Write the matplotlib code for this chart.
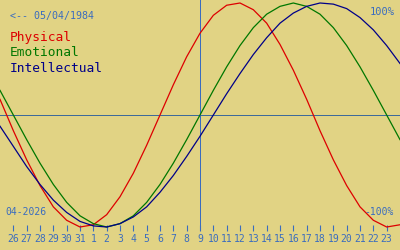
import matplotlib
matplotlib.use('Agg')
import matplotlib.pyplot as plt

# day offsets relative to today (09 Apr 2026)
days = list(range(-15, 16))
day_labels = ['26', '27', '28', '29', '30', '31', '1', '2', '3', '4', '5', '6', '7', '8', '9',
              '10', '11', '12', '13', '14', '15', '16', '17', '18', '19', '20', '21', '22', '23']
tick_days = list(range(-14, 15))

physical = [0.14, -0.14, -0.40, -0.63, -0.82, -0.94, -1.00, -0.98, -0.89, -0.73, -0.52,
            -0.27, 0.00, 0.27, 0.52, 0.73, 0.89, 0.98, 1.00, 0.94, 0.82, 0.63, 0.40, 0.14,
            -0.14, -0.40, -0.63, -0.82, -0.94, -1.00, -0.98]
emotional = [0.22, 0.00, -0.22, -0.43, -0.62, -0.78, -0.90, -0.97, -1.00, -0.97, -0.90,
             -0.78, -0.62, -0.43, -0.22, 0.00, 0.22, 0.43, 0.62, 0.78, 0.90, 0.97, 1.00,
             0.97, 0.90, 0.78, 0.62, 0.43, 0.22, 0.00, -0.22]
intellectual = [-0.10, -0.28, -0.46, -0.62, -0.76, -0.87, -0.95, -0.99, -1.00, -0.97, -0.91,
                -0.82, -0.69, -0.54, -0.37, -0.19, 0.00, 0.19, 0.37, 0.54, 0.69, 0.82, 0.91,
                0.97, 1.00, 0.99, 0.95, 0.87, 0.76, 0.62, 0.46]

bg = '#e1d384'
blue = '#3a6cbf'
mono = 'DejaVu Sans Mono'

fig = plt.figure(figsize=(4, 2.5), dpi=100, facecolor=bg)
ax = fig.add_axes([0, 0, 1, 1], facecolor=bg)
ax.set_xlim(-15, 15)
ax.set_ylim(-135 / 112, 115 / 112)

# zero line and "today" marker
ax.axhline(0, color='#3d6a9a', lw=0.6, antialiased=False)
ax.plot([0, 0], [115 / 112, -113 / 112], color=blue, lw=0.6, antialiased=False)

ax.plot(days, physical, color='#dd0000', lw=0.9)
ax.plot(days, emotional, color='#007700', lw=0.9)
ax.plot(days, intellectual, color='#000088', lw=0.9)

# bottom axis with day ticks, placed inside the figure
for s in ['top', 'right', 'left', 'bottom']:
    ax.spines[s].set_visible(False)
ax.spines['bottom'].set_position(('data', -110 / 112))
ax.set_yticks([])
ax.set_xticks(tick_days)
ax.set_xticklabels(day_labels)
ax.tick_params(axis='x', direction='out', length=4.5, width=0.8, color=blue,
               labelcolor=blue, labelsize=7, pad=2)
for lbl in ax.get_xticklabels():
    lbl.set_family(mono)

fig.text(10 / 400, 1 - 16 / 250, '<-- 05/04/1984', color=blue, family=mono,
         fontsize=7.2, va='center', ha='left')
fig.text(10 / 400, 1 - 38 / 250, 'Physical', color='#dd0000', family=mono,
         fontsize=9.3, va='center', ha='left')
fig.text(10 / 400, 1 - 53 / 250, 'Emotional', color='#007700', family=mono,
         fontsize=9.3, va='center', ha='left')
fig.text(10 / 400, 1 - 68 / 250, 'Intellectual', color='#000088', family=mono,
         fontsize=9.3, va='center', ha='left')
fig.text(395 / 400, 1 - 12 / 250, '100%', color=blue, family=mono,
         fontsize=7.5, va='center', ha='right')
fig.text(394 / 400, 1 - 212 / 250, '-100%', color=blue, family=mono,
         fontsize=7, va='center', ha='right')
fig.text(5 / 400, 1 - 212 / 250, '04-2026', color=blue, family=mono,
         fontsize=7, va='center', ha='left')

fig.savefig('out.png', dpi=100, facecolor=bg)
